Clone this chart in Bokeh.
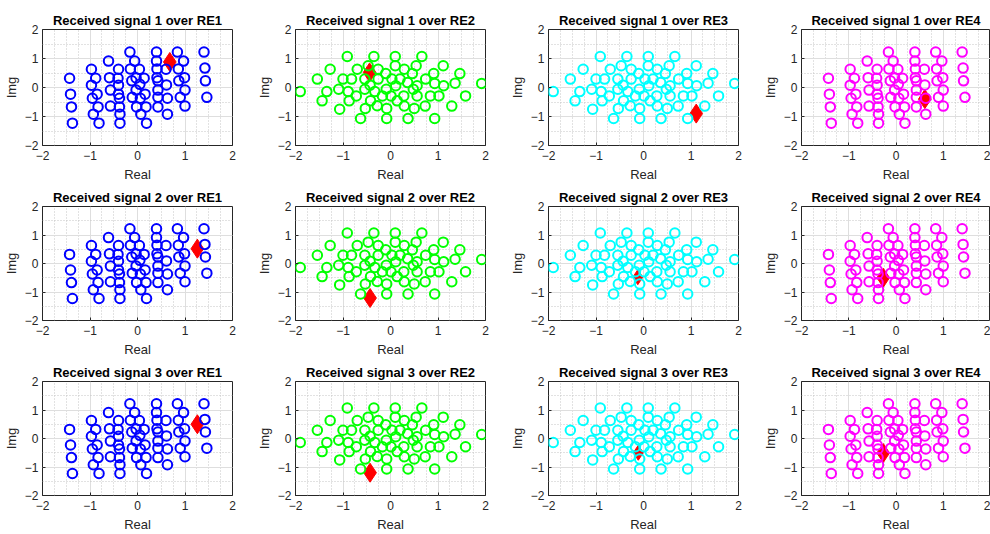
from bokeh.plotting import figure
from bokeh.layouts import row, column
from bokeh.models import Range1d, SingleIntervalTicker
from bokeh.embed import file_html
from bokeh.resources import INLINE

# ---- data ----
# constellation shown over RE1 and RE4
set_a_real = [-1.43, -1.41, -1.39, -1.37,
              -0.97, -0.88, -0.97, -0.85, -0.95, -0.83, -0.93, -0.81,
              -0.61, -0.40, -0.59, -0.41, -0.40, -0.57, -0.40, -0.38, -0.57, -0.38, -0.37, -0.37,
              -0.16, -0.06, -0.15, 0.04, -0.12, -0.03, 0.14, 0.05, -0.03, -0.11, -0.02, 0.06, 0.16, 0.07, 0.18, 0.19,
              0.40, 0.40, 0.41, 0.41, 0.43, 0.43, 0.43, 0.43,
              0.60, 0.61, 0.63, 0.63,
              0.84, 0.86, 0.87, 0.90,
              0.97, 0.99, 1.00, 1.00,
              1.40, 1.42, 1.43, 1.46]
set_a_imag = [0.32, -0.23, -0.67, -1.23,
              0.63, 0.32, 0.08, -0.23, -0.37, -0.67, -0.92, -1.23,
              0.91, 0.63, 0.34, 0.32, 0.08, -0.09, -0.23, -0.37, -0.64, -0.67, -0.92, -1.23,
              1.22, 0.91, 0.64, 0.63, 0.23, 0.33, 0.32, 0.11, -0.09, -0.34, -0.67, -0.37, -0.23, -0.92, -0.67, -1.23,
              1.22, 0.91, 0.64, 0.34, 0.23, -0.09, -0.34, -0.67,
              0.63, 0.09, -0.37, -0.92,
              1.22, 0.64, 0.23, -0.34,
              0.91, 0.34, -0.09, -0.64,
              1.22, 0.67, 0.23, -0.34]
# constellation shown over RE2 and RE3
set_b_real = [-1.90, -1.54, -1.44, -1.34, -1.27, -1.09, -1.07, -1.00, -0.91, -0.89, -0.87, -0.82,
              -0.72, -0.70, -0.63, -0.54, -0.53, -0.54, -0.47, -0.43, -0.42, -0.35, -0.33, -0.28,
              -0.26, -0.26, -0.17, -0.10, -0.09, -0.08, -0.08, 0.01, 0.03, 0.10, 0.10, 0.11,
              0.14, 0.20, 0.28, 0.29, 0.29, 0.36, 0.37, 0.46, 0.48, 0.50, 0.54, 0.56,
              0.56, 0.66, 0.73, 0.74, 0.84, 0.91, 0.93, 0.93, 1.02, 1.11, 1.12, 1.29,
              1.36, 1.46, 1.58, 1.92]
set_b_imag = [-0.14, 0.29, -0.46, -0.14, 0.63, -0.06, -0.75, 0.29, 1.07, -0.14, -0.46, 0.29,
              -0.29, 0.63, -1.07, 0.29, -0.72, -0.06, 0.75, 0.08, -0.46, 1.07, -0.14, -0.63,
              0.63, 0.29, -0.29, 0.48, -0.06, -0.72, -1.07, -0.29, 0.29, 1.07, 0.75, 0.06,
              -0.46, 0.29, -0.29, 0.63, -0.64, 0.17, -1.07, 0.48, -0.06, -0.72, 0.75, -0.29,
              0.06, 1.07, -0.64, 0.29, -0.29, 0.48, 0.14, -1.07, -0.29, 0.75, 0.06, -0.64,
              0.15, 0.48, -0.29, 0.14]

signal_labels = ["1", "2", "3"]
re_labels = ["RE1", "RE2", "RE3", "RE4"]
re_sets = ["a", "b", "b", "a"]

# red diamond (received symbol) per signal (row) and RE (column)
marker_real = [[0.68, -0.44, 1.11, 0.61],
               [1.26, -0.43, -0.12, -0.27],
               [1.26, -0.43, -0.11, -0.27]]
marker_imag = [[0.88, 0.52, -0.90, -0.40],
               [0.52, -1.21, -0.48, -0.50],
               [0.50, -1.20, -0.50, -0.51]]

axis_ticks = [-2, -1, 0, 1, 2]

# ---- styles / layout ----
re_colors = ["#0000ff", "#00ff00", "#00ffff", "#ff00ff"]
col_width = [253, 253, 253, 231]
col_border_right = [21, 21, 21, 0]
row_height = [185, 175, 174]
row_border_top = [29, 21, 21]
row_border_bottom = [40, 40, 38]
diamond_size = [[19, 19, 19, 19], [19, 19, 15, 19], [19, 19, 15, 19]]

FONT = "Liberation Sans"
TXT = "#262626"

sets = {"a": (set_a_real, set_a_imag), "b": (set_b_real, set_b_imag)}

rows = []
for r in range(3):
    figs = []
    for c in range(4):
        p = figure(width=col_width[c], height=row_height[r],
                   x_range=Range1d(axis_ticks[0], axis_ticks[-1]),
                   y_range=Range1d(axis_ticks[0], axis_ticks[-1]),
                   output_backend="svg", toolbar_location=None,
                   min_border_left=40, min_border_right=col_border_right[c],
                   min_border_top=row_border_top[r], min_border_bottom=row_border_bottom[r],
                   background_fill_color="white", border_fill_color="white")
        p.title.text = f"Received signal {signal_labels[r]} over {re_labels[c]}"
        p.title.align = "center"
        p.title.text_font = FONT
        p.title.text_font_size = "13px"
        p.title.text_font_style = "bold"
        p.title.text_color = "black"
        p.title.standoff = 4

        p.xaxis.ticker = SingleIntervalTicker(interval=1, num_minor_ticks=4)
        p.yaxis.ticker = SingleIntervalTicker(interval=1, num_minor_ticks=2)
        p.xaxis.axis_label = "Real"
        p.yaxis.axis_label = "Img"
        for ax in (p.xaxis, p.yaxis):
            ax.axis_label_text_font = FONT
            ax.axis_label_text_font_size = "13px"
            ax.axis_label_text_font_style = "normal"
            ax.axis_label_text_color = TXT
            ax.major_label_text_font = FONT
            ax.major_label_text_font_size = "12px"
            ax.major_label_text_color = TXT
            ax.axis_line_color = None
            ax.major_tick_in = 3
            ax.major_tick_out = 0
            ax.major_tick_line_color = TXT
            ax.minor_tick_in = 0
            ax.minor_tick_out = 0
            ax.major_label_standoff = 4
            ax.axis_label_standoff = 3
        p.xaxis.axis_label_standoff = 4
        p.xaxis.major_label_standoff = 5

        for g in (p.xgrid, p.ygrid):
            g.grid_line_color = "#dedede"
            g.grid_line_width = 1
            g.minor_grid_line_color = "#c4c4c4"
            g.minor_grid_line_dash = "1 2"
            g.minor_grid_line_width = 1
        p.outline_line_color = TXT
        p.outline_line_width = 1
        p.outline_line_alpha = 1

        # received symbol
        p.scatter(x=[marker_real[r][c]], y=[marker_imag[r][c]], marker="diamond",
                  size=diamond_size[r][c], fill_color="red", line_color="red")
        # constellation
        xs, ys = sets[re_sets[c]]
        p.scatter(x=xs, y=ys, marker="circle", size=9.5, fill_color=None,
                  line_color=re_colors[c], line_width=2)
        figs.append(p)
    rows.append(row(figs, spacing=0))

layout = column(rows, spacing=0)
open("out.html", "w").write(file_html(layout, INLINE))
